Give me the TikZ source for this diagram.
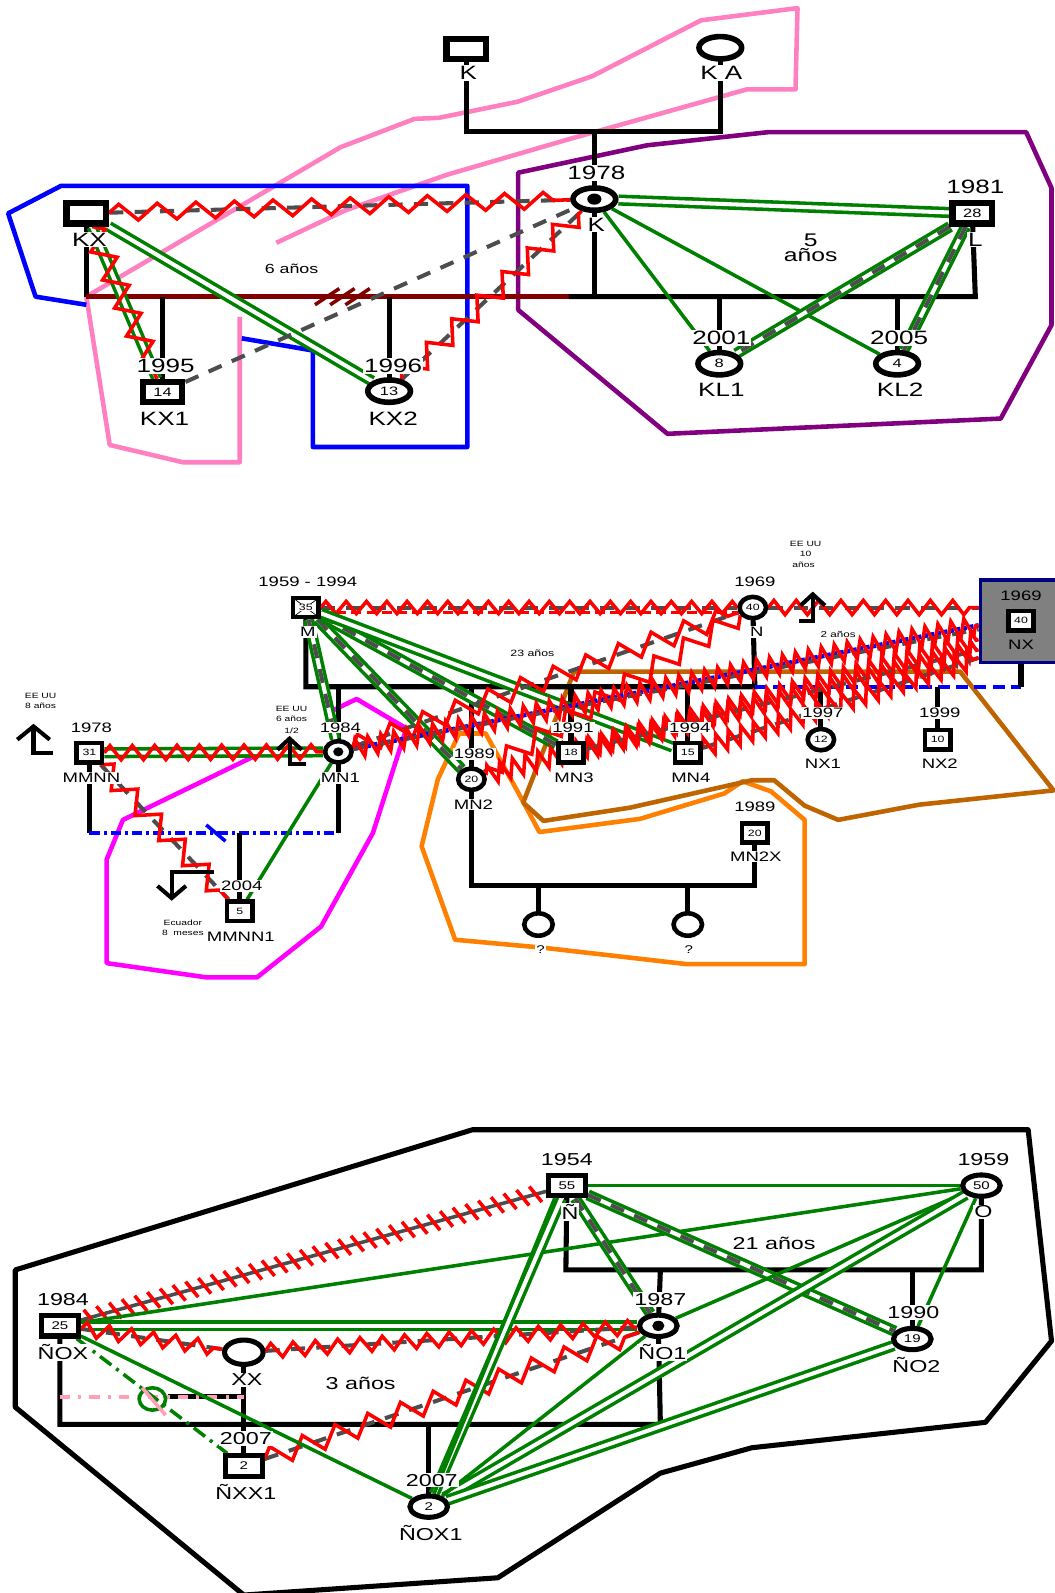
\documentclass[tikz,border=0pt]{standalone}
\usepackage{fontspec}
\setmainfont{Liberation Sans}[FakeStretch=1.35]
\usetikzlibrary{shapes.geometric,decorations.pathmorphing,decorations.markings}
\definecolor{grn}{RGB}{0,128,0}
\definecolor{dkg}{RGB}{77,77,77}
\definecolor{pinkc}{RGB}{255,128,192}
\definecolor{purp}{RGB}{128,0,128}
\definecolor{dred}{RGB}{128,0,0}
\definecolor{mag}{RGB}{255,0,255}
\definecolor{orng}{RGB}{255,128,0}
\definecolor{brwn}{RGB}{190,100,0}
\definecolor{navyc}{RGB}{0,0,128}
\definecolor{grayf}{RGB}{128,128,128}
\definecolor{pinkd}{RGB}{255,160,180}
\newcommand\myfs[1]{\fontsize{#1}{#1}\selectfont}
\pgfdeclarelayer{bg}
\pgfdeclarelayer{famly}
\pgfdeclarelayer{emo}
\pgfsetlayers{bg,famly,emo,main}
\tikzset{
 bsq/.style={rectangle,draw,line width=6pt,fill=white,minimum width=39pt,minimum height=20pt,inner sep=0pt,font=\myfs{12}},
 bci/.style={ellipse,draw,line width=5.5pt,fill=white,minimum width=42pt,minimum height=22pt,inner sep=0pt,font=\myfs{12}},
 ssq/.style={rectangle,draw,line width=4.5pt,fill=white,minimum width=25pt,minimum height=19pt,inner sep=0pt,font=\myfs{9}},
 sci/.style={ellipse,draw,line width=4.5pt,fill=white,minimum width=26pt,minimum height=21pt,inner sep=0pt,font=\myfs{9}},
 msq/.style={rectangle,draw,line width=5pt,fill=white,minimum width=36pt,minimum height=20pt,inner sep=0pt,font=\myfs{11}},
 mci/.style={ellipse,draw,line width=5pt,fill=white,minimum width=37pt,minimum height=21pt,inner sep=0pt,font=\myfs{11}},
 idxdot/.style={ellipse,fill=black,inner sep=0pt},
 lab/.style={fill=white,inner sep=1pt,font=\myfs{19}},
 labm/.style={fill=white,inner sep=1pt,font=\myfs{13.5}},
 labb/.style={fill=white,inner sep=1pt,font=\myfs{17}},
 smtxt/.style={inner sep=0pt,font=\myfs{7.5}},
 famline/.style={line width=5pt},
 emclose/.style={draw=grn,double=white,double distance=4pt,line width=3.5pt},
 emone/.style={draw=grn,line width=3.5pt},
 emdist/.style={draw=dkg,line width=4pt,dash pattern=on 14pt off 11pt},
 emhost/.style={draw=red,line width=3.5pt,decorate,decoration={zigzag,segment length=22pt,amplitude=7pt}},
 hostL/.style={emhost,decoration={zigzag,segment length=34pt,amplitude=10pt}},
 hostD/.style={emhost,decoration={zigzag,segment length=13pt,amplitude=9pt}},
 polyline/.style={line width=4.5pt,line join=round},
 mig/.style={line width=4pt},
}
\begin{document}
\begin{tikzpicture}[x=1pt,y=-1pt]
\useasboundingbox (0,0) rectangle (1038,1568);

%================ TOP ================
\node[bsq] (Ktop) at (459,48) {};
\node[lab] (Ktopn) at (461,72) {K};
\node[bci] (KA) at (709,47) {};
\node[lab] (KAn) at (710,72) {K A};
\node[bci] (K) at (585,196) {};
\node[idxdot,minimum width=14pt,minimum height=11pt] (Kd) at (K) {};
\node[lab] (Ky) at (587,170) {1978};
\node[lab] (Kn) at (587,221) {K};
\node[bsq] (L) at (957,210) {28};
\node[lab] (Ly) at (960,184) {1981};
\node[lab] (Ln) at (960,236) {L};
\node[bsq] (KX) at (85,210) {};
\node[lab] (KXn) at (88,236) {KX};
\node[bsq] (KX1) at (160,386) {14};
\node[lab] (KX1y) at (163,360) {1995};
\node[lab] (KX1n) at (162,412) {KX1};
\node[bci] (KX2) at (383,385) {13};
\node[lab] (KX2y) at (387,360) {1996};
\node[lab] (KX2n) at (387,412) {KX2};
\node[bci] (KL1) at (708,358) {8};
\node[lab] (KL1y) at (710,333) {2001};
\node[lab] (KL1n) at (710,384) {KL1};
\node[bci] (KL2) at (883,358) {4};
\node[lab] (KL2y) at (885,333) {2005};
\node[lab] (KL2n) at (886,384) {KL2};
\node[fill=white,inner sep=1pt,font=\myfs{13}] (t6) at (287,265) {6 años};
\node[fill=white,inner sep=1pt,font=\myfs{18},align=center] (t5) at (798,244) {5\\[-3pt]años};

\coordinate (a1) at (459,129); \coordinate (a2) at (709,129); \coordinate (a3) at (585,129);
\coordinate (c1) at (85,292); \coordinate (c2) at (585,292); \coordinate (c3) at (560,292); \coordinate (c4) at (960,292);
\coordinate (c5) at (160,292); \coordinate (c6) at (383,292); \coordinate (c7) at (708,292); \coordinate (c8) at (883,292);

%================ MIDDLE ================
\node[ssq,font=\myfs{9}] (M) at (301,598) {};
\node[labm] (My) at (303,573) {1959 - 1994};
\node[labm] (Mn) at (303,622) {M};
\node[sci] (N) at (741,598) {40};
\node[labm] (Ny) at (743,573) {1969};
\node[labm] (Nn) at (745,622) {N};
\node[rectangle,draw=navyc,fill=grayf,line width=3.5pt,minimum width=76pt,minimum height=81pt,inner sep=0pt] (NXbox) at (1003,611.5) {};
\node[ssq] (NX) at (1005,611) {40};
\node[inner sep=0pt,font=\myfs{13.5}] (NXy) at (1005,586) {1969};
\node[inner sep=0pt,font=\myfs{13.5}] (NXn) at (1005,635) {NX};
\node[sci] (MN1) at (333,740) {};
\node[idxdot,minimum width=10pt,minimum height=9pt] (MN1d) at (MN1) {};
\node[labm] (MN1y) at (335,716) {1984};
\node[labm] (MN1n) at (335,766) {MN1};
\node[sci] (MN2) at (464,767) {20};
\node[labm] (MN2y) at (467,742) {1989};
\node[labm] (MN2n) at (466,792) {MN2};
\node[ssq] (MN3) at (562,741) {18};
\node[labm] (MN3y) at (564,716) {1991};
\node[labm] (MN3n) at (565,766) {MN3};
\node[ssq] (MN4) at (677,741) {15};
\node[labm] (MN4y) at (679,716) {1994};
\node[labm] (MN4n) at (680,766) {MN4};
\node[sci] (NX1) at (808,728) {12};
\node[labm] (NX1y) at (810,702) {1997};
\node[labm] (NX1n) at (810,752) {NX1};
\node[ssq] (NX2) at (923,728) {10};
\node[labm] (NX2y) at (925,702) {1999};
\node[labm] (NX2n) at (925,752) {NX2};
\node[ssq] (MMNN) at (88,741) {31};
\node[labm] (MMNNy) at (90,716) {1978};
\node[labm] (MMNNn) at (90,766) {MMNN};
\node[ssq] (MMNN1) at (236,897) {5};
\node[labm] (MMNN1y) at (238,872) {2004};
\node[labm] (MMNN1n) at (237,922) {MMNN1};
\node[ssq] (MN2X) at (743,820) {20};
\node[labm] (MN2Xy) at (743,794) {1989};
\node[labm] (MN2Xn) at (744,843) {MN2X};
\node[sci,minimum width=28pt,minimum height=22pt] (C1) at (530,910) {};
\node[fill=white,inner sep=1pt,font=\myfs{11}] (C1n) at (532,935) {?};
\node[sci,minimum width=28pt,minimum height=22pt] (C2) at (677,910) {};
\node[fill=white,inner sep=1pt,font=\myfs{11}] (C2n) at (678,935) {?};
\node[fill=white,inner sep=1pt,font=\myfs{9}] (t23) at (524,643) {23 años};
\node[fill=white,inner sep=1pt,font=\myfs{8.5}] (t2) at (825,624) {2 años};
\node[smtxt] (e1) at (40,685) {EE UU};
\node[smtxt] (e2) at (40,695) {8 años};
\node[smtxt] (e3) at (287,698) {EE UU};
\node[smtxt] (e4) at (287,708) {6 años};
\node[smtxt] (e5) at (287,719) {1/2};
\node[smtxt] (e6) at (793,535) {EE UU};
\node[smtxt] (e7) at (793,545) {10};
\node[smtxt] (e8) at (791,556) {años};
\node[smtxt] (e9) at (180,908) {Ecuador};
\node[smtxt] (e10) at (180,918) {8\ \ meses};

\coordinate (m1) at (301,676); \coordinate (m2) at (743,676); \coordinate (m3) at (1005,676);
\coordinate (m4) at (333,676); \coordinate (m5) at (464,676); \coordinate (m6) at (562,676); \coordinate (m7) at (677,676);
\coordinate (m8) at (808,676); \coordinate (m9) at (923,676);
\coordinate (d1) at (88,820); \coordinate (d2) at (333,820); \coordinate (d3) at (236,820);
\coordinate (f1) at (464,872); \coordinate (f2) at (743,872); \coordinate (f3) at (530,872); \coordinate (f4) at (677,872);

%================ BOTTOM ================
\node[msq] (NN) at (558,1167) {55};
\node[labb] (NNy) at (558,1141) {1954};
\node[labb] (NNn) at (561,1193) {Ñ};
\node[mci] (OO) at (966,1167) {50};
\node[labb] (OOy) at (968,1141) {1959};
\node[labb] (OOn) at (968,1193) {O};
\node[mci] (NO1) at (648,1305) {};
\node[idxdot,minimum width=12pt,minimum height=10pt] (NO1d) at (NO1) {};
\node[labb] (NO1y) at (650,1279) {1987};
\node[labb] (NO1n) at (652,1331) {ÑO1};
\node[mci] (NO2) at (898,1318) {19};
\node[labb] (NO2y) at (899,1292) {1990};
\node[labb] (NO2n) at (902,1344) {ÑO2};
\node[msq] (NOX) at (59,1305) {25};
\node[labb] (NOXy) at (62,1279) {1984};
\node[labb] (NOXn) at (62,1331) {ÑOX};
\node[mci] (NOX1) at (422,1483) {2};
\node[labb] (NOX1y) at (425,1457) {2007};
\node[labb] (NOX1n) at (424,1509) {ÑOX1};
\node[mci,minimum width=38pt,minimum height=24pt] (XX) at (240,1331) {};
\node[labb] (XXn) at (243,1358) {XX};
\node[msq] (NXX1) at (240,1443) {2};
\node[labb] (NXX1y) at (242,1416) {2007};
\node[labb] (NXX1n) at (242,1468) {ÑXX1};
\node[labb] (t21) at (762,1224) {21 años};
\node[labb] (t3) at (355,1362) {3 años};

\coordinate (b1) at (557,1250); \coordinate (b2) at (966,1250); \coordinate (b3) at (650,1250); \coordinate (b4) at (898,1250);
\coordinate (b5) at (59,1402); \coordinate (b6) at (650,1402); \coordinate (b7) at (422,1402);
\coordinate (b8) at (59,1375); \coordinate (b9) at (240,1375); \coordinate (b10) at (165,1375);

% deceased mark and number for M
\draw[line width=0.7pt] ([shift={(3pt,-3pt)}]M.north west) -- ([shift={(-3pt,3pt)}]M.south east);
\draw[line width=0.7pt] ([shift={(-3pt,-3pt)}]M.north east) -- ([shift={(3pt,3pt)}]M.south west);
\node[fill=white,inner sep=0.5pt,font=\myfs{9}] (Mnum) at (M) {35};

%================ POLYGONS ================
\begin{pgfonlayer}{bg}
\draw[polyline,pinkc] (272,239) -- (340,207) -- (440,172) -- (560,137) -- (735,88) -- (783,88) -- (785,8) -- (690,20) -- (583,75) -- (510,100) -- (432,116) -- (408,117) -- (335,145) -- (85,292) -- (108,438) -- (180,455) -- (236,455) -- (236,312);
\draw[polyline,blue] (85,300) -- (35,292) -- (8,210) -- (60,183) -- (460,183) -- (460,440) -- (308,440) -- (308,345) -- (238,333);
\draw[polyline,purp] (510,170) -- (637,143) -- (757,130) -- (1010,130) -- (1035,185) -- (1035,320) -- (985,412) -- (657,427) -- (510,305) -- cycle;
\draw[polyline,mag] (253,743) -- (121,807) -- (105,846) -- (105,948) -- (203,962) -- (253,962) -- (316,912) -- (367,820) -- (400,717) -- (351,688) -- (326,700);
\draw[polyline,orng] (448,925) -- (415,833) -- (431,767) -- (452,722) -- (478,722) -- (510,780) -- (531,819) -- (630,806) -- (713,781) -- (731,769) -- (759,779) -- (792,807) -- (792,949) -- (676,949) -- (536,933) -- cycle;
\draw[polyline,brwn] (565,661) -- (945,661) -- (1037,778) -- (905,792) -- (825,807) -- (792,793) -- (762,768) -- (740,768) -- (620,795) -- (535,808) -- (515,790) -- cycle;
\draw[polyline,line width=5pt] (15,1250) -- (465,1112) -- (1012,1112) -- (1035,1320) -- (970,1400) -- (740,1425) -- (650,1450) -- (490,1553) -- (240,1570) -- (15,1385) -- cycle;
\end{pgfonlayer}

%================ FAMILY LINES ================
\begin{pgfonlayer}{famly}
\draw[famline] (Ktop.center) -- (a1) -- (a2) -- (KA.center);
\draw[famline] (a3) -- (K.center);
\draw[famline] (KX.center) -- (c1);
\draw[famline,dred] (c1) -- (c2);
\draw[famline] (c3) -- (c4) -- (L.center);
\draw[famline] (K.center) -- (c2);
\draw[famline] (c5) -- (KX1.center);
\draw[famline] (c6) -- (KX2.center);
\draw[famline] (c7) -- (KL1.center);
\draw[famline] (c8) -- (KL2.center);
\foreach \xx in {0,15,30} {\draw[dred,line width=3.5pt] (310+\xx,300) -- (334+\xx,284);}
% middle
\draw[famline] (M.center) -- (m1) -- (m2) -- (N.center);
\draw[blue,line width=3.5pt,dash pattern=on 12pt off 6pt] (m2) -- (m3);
\draw[famline] (m3) -- (NX.center);
\draw[famline] (m4) -- (MN1.center);
\draw[famline] (m5) -- (MN2.center);
\draw[famline] (m6) -- (MN3.center);
\draw[famline] (m7) -- (MN4.center);
\draw[famline] (m8) -- (NX1.center);
\draw[famline] (m9) -- (NX2.center);
\draw[famline] (MMNN.center) -- (d1);
\draw[famline] (MN1.center) -- (d2);
\draw[blue,line width=3.5pt,dash pattern=on 10pt off 4pt on 3pt off 4pt] (d1) -- (d2);
\draw[blue,line width=3.5pt] (203,812) -- (222,828);
\draw[famline] (d3) -- (MMNN1.center);
\draw[famline] (MN2.center) -- (f1) -- (f2) -- (MN2X.center);
\draw[famline] (f3) -- (C1.center);
\draw[famline] (f4) -- (C2.center);
% bottom
\draw[famline] (NN.center) -- (b1) -- (b2) -- (OO.center);
\draw[famline] (b3) -- (NO1.center) -- (b6) -- (b5) -- (NOX.center);
\draw[famline] (b4) -- (NO2.center);
\draw[famline] (b7) -- (NOX1.center);
\draw[famline] (XX.center) -- (NXX1.center);
\draw[famline] (b10) -- (b9);
\draw[pinkd,line width=3.5pt,dash pattern=on 10pt off 8pt on 3pt off 8pt] (b8) -- (b9);
\end{pgfonlayer}

%================ EMOTIONAL LINES ================
\begin{pgfonlayer}{emo}
% top
\draw[emdist] (KX) -- (K);
\draw[emhost,decoration={zigzag,segment length=38pt,amplitude=8pt}] (KX) -- (K);
\draw[emclose] (KX) -- (KX1);
\draw[emhost,decoration={zigzag,segment length=30pt,amplitude=11pt}] (KX) -- (KX1);
\draw[emclose] (KX) -- (KX2);
\draw[emdist] (KX1) -- (K);
\draw[emdist] (KX2) -- (K);
\draw[hostL] (KX2) -- (K);
\draw[emclose] (K) -- (L);
\draw[emone] (K) -- (KL1);
\draw[emone] (K) -- (KL2);
\draw[emclose] (L) -- (KL1);
\draw[emdist] (L) -- (KL1);
\draw[emclose] (L) -- (KL2);
\draw[emdist] (L) -- (KL2);
% middle
\draw[emdist] (M) -- (N);
\draw[emhost,decoration={zigzag,segment length=20pt,amplitude=6pt}] (M) -- (N);
\draw[red,line width=3.5pt,dash pattern=on 10pt off 5pt] ([yshift=-5pt]M.east) -- ([yshift=-5pt]N.west);
\draw[emdist] (N) -- (N -| NXbox.west);
\draw[emhost] (N) -- (N -| NXbox.west);
\draw[emclose] (M) -- (MN1);
\draw[emdist] (M) -- (MN1);
\draw[emclose] (M) -- (MN2);
\draw[emdist] (M) -- (MN2);
\draw[emclose] (M) -- (MN3);
\draw[emdist] (M) -- (MN3);
\draw[emclose] (M) -- (MN4);
\draw[emclose] (MMNN) -- (MN1);
\draw[emhost] (MMNN) -- (MN1);
\draw[emone] (MN1) -- (MMNN1);
\draw[emdist] (MMNN) -- (MMNN1);
\draw[hostL] (MMNN) -- (MMNN1);
\draw[emdist] (MN1) -- (N);
\draw[hostL] (MN1) -- (N);
\draw[hostL] (N) -- (MN2);
\draw[blue,line width=4.5pt,dotted] (MN1) -- ([yshift=-4pt]NXbox.west);
\draw[emdist] (MN1) -- ([yshift=-8pt]NXbox.west);
\draw[hostD] (MN1) -- ([yshift=-4pt]NXbox.west);
\draw[hostD] (MN2) -- ([yshift=-18pt]NXbox.west);
\draw[emdist] (MN3) -- ([yshift=-28pt]NXbox.west);
\draw[hostD] (MN3) -- ([yshift=-28pt]NXbox.west);
\draw[emdist] (MN4) -- ([yshift=-36pt]NXbox.west);
\draw[hostD] (MN4) -- ([yshift=-36pt]NXbox.west);
% bottom
\draw[dkg,line width=3.5pt] (NOX) -- (NN);
\path[decorate,decoration={markings,mark=between positions 0.02 and 0.98 step 13pt with {\draw[red,line width=3.5pt] (-4pt,9pt) -- (4pt,-9pt);}}] (NOX) -- (NN);
\draw[emone] (NOX) -- (OO);
\draw[emclose] (NOX) -- (NO1);
\draw[emdist] (NOX) -- (XX);
\draw[emhost] (NOX) -- (XX);
\draw[emdist] (XX) -- (NO1);
\draw[emhost] (XX) -- (NO1);
\draw[emdist] (NXX1) -- (NO1);
\draw[hostL] (NXX1) -- (NO1);
\draw[emone] (NOX) -- (NOX1);
\draw[grn,line width=3.5pt,dash pattern=on 14pt off 6pt on 3pt off 6pt] (NOX) -- (NXX1);
\node[draw=grn,ellipse,line width=3.5pt,minimum width=26pt,minimum height=22pt,inner sep=0pt] (gc) at (150,1377) {};
\draw[pinkd,line width=3.5pt] (140,1366) -- (163,1393);
\draw[emone] (NN) -- (OO);
\draw[emclose] (NN) -- (NO1);
\draw[emdist] (NN) -- (NO1);
\draw[emclose] (NN) -- (NO2);
\draw[emdist] (NN) -- (NO2);
\draw[emclose] (NN) -- (NOX1);
\draw[emone] ([xshift=-12pt]NN.south) -- (NOX1);
\draw[emone] (OO) -- (NO1);
\draw[emone] (OO) -- (NO2);
\draw[emclose] (OO) -- (NOX1);
\draw[emclose] (NO2) -- (NOX1);
\draw[emone] (NO1) -- (NOX1);
% migration arrows
\draw[mig] (17,728) -- (33,715) -- (49,728);
\draw[mig] (33,715) -- (33,741) -- (52,741);
\draw[mig] (273,738) -- (285,727) -- (297,738);
\draw[mig] (285,727) -- (285,752) -- (301,752);
\draw[mig] (788,596) -- (800,585) -- (812,596);
\draw[mig] (800,585) -- (800,611) -- (786,611);
\draw[mig] (211,858) -- (169,858) -- (169,884);
\draw[mig] (155,872) -- (169,884) -- (183,872);
\end{pgfonlayer}
\end{tikzpicture}
\end{document}
